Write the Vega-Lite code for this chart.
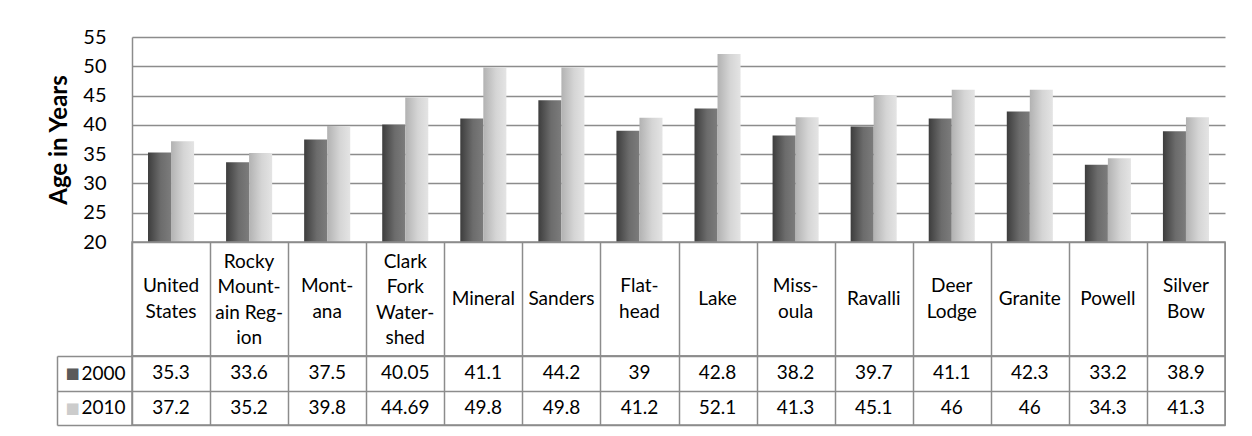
{
  "$schema": "https://vega.github.io/schema/vega-lite/v6.json",
  "background": "white",
  "padding": {"left": 47, "top": 27, "right": 0, "bottom": 0},
  "bounds": "flush",
  "spacing": 0,
  "config": {
    "font": "Lato",
    "text": {"font": "Lato", "fontSize": 19, "color": "#000000"},
    "axis": {"labelFont": "Lato", "titleFont": "Lato", "labelColor": "#000000", "titleColor": "#000000"}
  },
  "datasets": {
    "ages": [
      {"cat": "United States", "year": "2000", "value": 35.3},
      {"cat": "United States", "year": "2010", "value": 37.2},
      {"cat": "Rocky Mountain Region", "year": "2000", "value": 33.6},
      {"cat": "Rocky Mountain Region", "year": "2010", "value": 35.2},
      {"cat": "Montana", "year": "2000", "value": 37.5},
      {"cat": "Montana", "year": "2010", "value": 39.8},
      {"cat": "Clark Fork Watershed", "year": "2000", "value": 40.05},
      {"cat": "Clark Fork Watershed", "year": "2010", "value": 44.69},
      {"cat": "Mineral", "year": "2000", "value": 41.1},
      {"cat": "Mineral", "year": "2010", "value": 49.8},
      {"cat": "Sanders", "year": "2000", "value": 44.2},
      {"cat": "Sanders", "year": "2010", "value": 49.8},
      {"cat": "Flathead", "year": "2000", "value": 39},
      {"cat": "Flathead", "year": "2010", "value": 41.2},
      {"cat": "Lake", "year": "2000", "value": 42.8},
      {"cat": "Lake", "year": "2010", "value": 52.1},
      {"cat": "Missoula", "year": "2000", "value": 38.2},
      {"cat": "Missoula", "year": "2010", "value": 41.3},
      {"cat": "Ravalli", "year": "2000", "value": 39.7},
      {"cat": "Ravalli", "year": "2010", "value": 45.1},
      {"cat": "Deer Lodge", "year": "2000", "value": 41.1},
      {"cat": "Deer Lodge", "year": "2010", "value": 46},
      {"cat": "Granite", "year": "2000", "value": 42.3},
      {"cat": "Granite", "year": "2010", "value": 46},
      {"cat": "Powell", "year": "2000", "value": 33.2},
      {"cat": "Powell", "year": "2010", "value": 34.3},
      {"cat": "Silver Bow", "year": "2000", "value": 38.9},
      {"cat": "Silver Bow", "year": "2010", "value": 41.3}
    ],
    "cats": [
      {"cat": "United States", "label": "United\nStates"},
      {"cat": "Rocky Mountain Region", "label": "Rocky\nMount-\nain Reg-\nion"},
      {"cat": "Montana", "label": "Mont-\nana"},
      {"cat": "Clark Fork Watershed", "label": "Clark\nFork\nWater-\nshed"},
      {"cat": "Mineral", "label": "Mineral"},
      {"cat": "Sanders", "label": "Sanders"},
      {"cat": "Flathead", "label": "Flat-\nhead"},
      {"cat": "Lake", "label": "Lake"},
      {"cat": "Missoula", "label": "Miss-\noula"},
      {"cat": "Ravalli", "label": "Ravalli"},
      {"cat": "Deer Lodge", "label": "Deer\nLodge"},
      {"cat": "Granite", "label": "Granite"},
      {"cat": "Powell", "label": "Powell"},
      {"cat": "Silver Bow", "label": "Silver\nBow"}
    ]
  },
  "vconcat": [
    {
      "width": 1093,
      "height": 205,
      "view": {"stroke": null},
      "data": {"name": "ages"},
      "encoding": {
        "x": {"field": "cat", "type": "nominal", "sort": null, "axis": null,
              "scale": {"domain": ["United States", "Rocky Mountain Region", "Montana", "Clark Fork Watershed", "Mineral", "Sanders", "Flathead", "Lake", "Missoula", "Ravalli", "Deer Lodge", "Granite", "Powell", "Silver Bow"],
                        "paddingInner": 0.41, "paddingOuter": 0.205}},
        "xOffset": {"field": "year", "type": "nominal", "scale": {"domain": ["2000", "2010"]}},
        "y": {"field": "value", "type": "quantitative",
              "scale": {"domain": [20, 55], "zero": false, "nice": false},
              "axis": {"title": "Age in Years", "titleFontSize": 24, "titleFontWeight": "bold", "titlePadding": 11,
                       "values": [20, 25, 30, 35, 40, 45, 50, 55], "labelFontSize": 20, "labelPadding": 26,
                       "ticks": false, "domain": true, "domainColor": "#8c8c8c", "domainWidth": 1.5,
                       "grid": true, "gridColor": "#8c8c8c", "gridWidth": 1.6}},
        "y2": {"datum": 20}
      },
      "layer": [
        {
          "transform": [{"filter": "datum.year == '2000'"}],
          "mark": {"type": "bar", "color": {"gradient": "linear", "x1": 0, "y1": 0, "x2": 1, "y2": 0,
            "stops": [{"offset": 0, "color": "#3d3d3d"}, {"offset": 0.55, "color": "#6c6c6c"}, {"offset": 1, "color": "#7c7c7c"}]}}
        },
        {
          "transform": [{"filter": "datum.year == '2010'"}],
          "mark": {"type": "bar", "color": {"gradient": "linear", "x1": 0, "y1": 0, "x2": 1, "y2": 0,
            "stops": [{"offset": 0, "color": "#b2b2b2"}, {"offset": 0.55, "color": "#d5d5d5"}, {"offset": 1, "color": "#e4e4e4"}]}}
        }
      ]
    },
    {
      "width": 1093,
      "height": 114,
      "view": {"stroke": "#8c8c8c", "strokeWidth": 1.5},
      "data": {"name": "cats"},
      "encoding": {
        "x": {"field": "cat", "type": "nominal", "sort": null,
              "scale": {"domain": ["United States", "Rocky Mountain Region", "Montana", "Clark Fork Watershed", "Mineral", "Sanders", "Flathead", "Lake", "Missoula", "Ravalli", "Deer Lodge", "Granite", "Powell", "Silver Bow"],
                        "paddingInner": 0, "paddingOuter": 0},
              "axis": {"title": null, "labels": false, "ticks": false, "domain": false, "tickBand": "extent",
                       "grid": true, "gridColor": "#8c8c8c", "gridWidth": 1.5}},
        "text": {"field": "label"}
      },
      "layer": [
        {
          "transform": [{"filter": "indexof(datum.label, '\\n') < 0"}],
          "mark": {"type": "text", "baseline": "middle", "align": "center"}
        },
        {
          "transform": [{"filter": "length(split(datum.label, '\\n')) == 2"}],
          "mark": {"type": "text", "lineBreak": "\n", "lineHeight": 25.5, "baseline": "middle", "align": "center", "dy": -12.75}
        },
        {
          "transform": [{"filter": "length(split(datum.label, '\\n')) == 4"}],
          "mark": {"type": "text", "lineBreak": "\n", "lineHeight": 25.5, "baseline": "middle", "align": "center", "dy": -37.5}
        }
      ]
    },
    {
      "width": 1093,
      "height": 69,
      "view": {"stroke": "#8c8c8c", "strokeWidth": 1.5},
      "data": {"name": "ages"},
      "encoding": {
        "x": {"field": "cat", "type": "nominal", "sort": null,
              "scale": {"domain": ["United States", "Rocky Mountain Region", "Montana", "Clark Fork Watershed", "Mineral", "Sanders", "Flathead", "Lake", "Missoula", "Ravalli", "Deer Lodge", "Granite", "Powell", "Silver Bow"],
                        "paddingInner": 0, "paddingOuter": 0},
              "axis": {"title": null, "labels": false, "ticks": false, "domain": false, "tickBand": "extent",
                       "grid": true, "gridColor": "#8c8c8c", "gridWidth": 1.5}},
        "text": {"field": "value", "type": "nominal"}
      },
      "layer": [
        {
          "mark": {"type": "text", "baseline": "middle", "align": "center"},
          "encoding": {
            "y": {"field": "year", "type": "nominal", "sort": ["2000", "2010"],
                  "scale": {"paddingInner": 0, "paddingOuter": 0},
                  "axis": {"title": null, "orient": "left", "domain": false, "ticks": true, "tickBand": "extent",
                           "tickSize": 75, "tickColor": "#8c8c8c", "tickWidth": 1.5,
                           "labelAlign": "left", "labelPadding": -24, "labelFontSize": 19,
                           "grid": true, "gridColor": "#8c8c8c", "gridWidth": 1.5}}
          }
        },
        {
          "mark": {"type": "text", "opacity": 0},
          "encoding": {
            "y": {"field": "year", "type": "nominal", "sort": ["2000", "2010"],
                  "axis": {"title": null, "orient": "left", "offset": 75, "domain": true, "domainColor": "#8c8c8c", "domainWidth": 1.5,
                           "ticks": false, "grid": false,
                           "labelExpr": "'■'", "labelFont": "DejaVu Sans", "labelFontSize": 15,
                           "labelAlign": "left", "labelPadding": -8,
                           "labelColor": {"condition": {"test": "datum.value == '2000'", "value": "#5a5a5a"}, "value": "#cccccc"}}}
          }
        }
      ],
      "resolve": {"axis": {"y": "independent"}}
    }
  ]
}
